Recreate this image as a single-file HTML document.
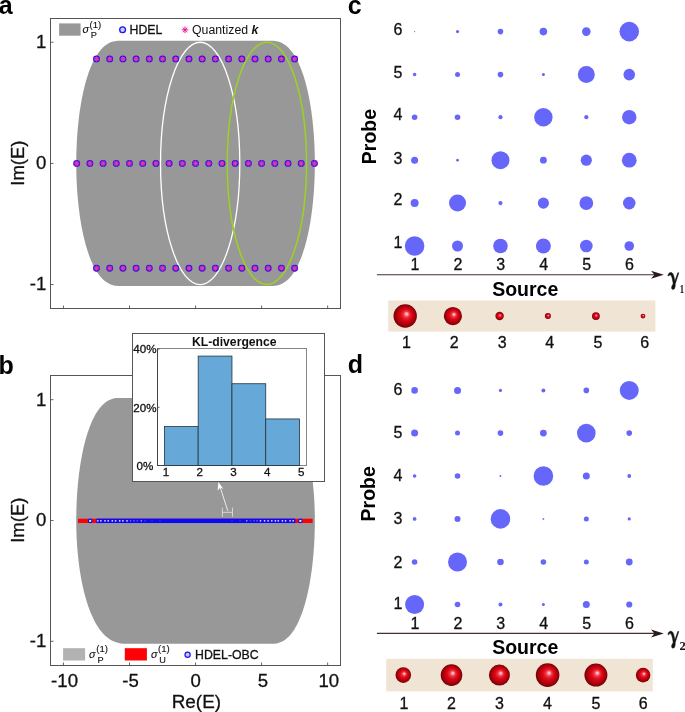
<!DOCTYPE html>
<html><head><meta charset="utf-8"><title>Figure</title>
<style>
html,body{margin:0;padding:0;background:#fff;}
body{width:685px;height:712px;overflow:hidden;font-family:"Liberation Sans",sans-serif;}
svg{display:block;will-change:transform;opacity:0.9999;}
</style></head>
<body>
<svg width="685" height="712" viewBox="0 0 685 712">
<defs>
<radialGradient id="sph" cx="0.5" cy="0.5" r="0.52" fx="0.57" fy="0.4">
<stop offset="0" stop-color="#ffe4e8"/>
<stop offset="0.1" stop-color="#ffa0ac"/>
<stop offset="0.24" stop-color="#f23546"/>
<stop offset="0.45" stop-color="#dc0a16"/>
<stop offset="0.7" stop-color="#b8000c"/>
<stop offset="0.88" stop-color="#8c0008"/>
<stop offset="1" stop-color="#600004"/>
</radialGradient>
</defs>
<rect x="0" y="0" width="685" height="712" fill="#ffffff"/>
<path d="M271.11,40.80 L273.16,40.84 L274.78,40.96 L276.27,41.17 L277.67,41.47 L279.02,41.85 L280.32,42.31 L281.57,42.85 L282.80,43.48 L283.99,44.18 L285.16,44.97 L286.30,45.85 L287.42,46.80 L288.51,47.83 L289.58,48.94 L290.62,50.13 L291.65,51.40 L292.65,52.74 L293.64,54.16 L294.60,55.65 L295.54,57.22 L296.46,58.86 L297.36,60.58 L298.24,62.36 L299.09,64.21 L299.93,66.13 L300.74,68.12 L301.54,70.17 L302.31,72.29 L303.06,74.47 L303.79,76.71 L304.50,79.01 L305.19,81.36 L305.85,83.78 L306.49,86.24 L307.11,88.76 L307.71,91.34 L308.28,93.96 L308.83,96.63 L309.36,99.34 L309.86,102.10 L310.34,104.90 L310.80,107.74 L311.23,110.62 L311.64,113.53 L312.02,116.48 L312.38,119.46 L312.72,122.47 L313.03,125.51 L313.32,128.58 L313.58,131.67 L313.82,134.78 L314.03,137.91 L314.22,141.06 L314.38,144.22 L314.52,147.40 L314.64,150.58 L314.72,153.78 L314.79,156.98 L314.82,160.19 L314.84,163.40 L314.82,166.61 L314.79,169.82 L314.72,173.02 L314.64,176.22 L314.52,179.40 L314.38,182.58 L314.22,185.74 L314.03,188.89 L313.82,192.02 L313.58,195.13 L313.32,198.22 L313.03,201.29 L312.72,204.33 L312.38,207.34 L312.02,210.32 L311.64,213.27 L311.23,216.18 L310.80,219.06 L310.34,221.90 L309.86,224.70 L309.36,227.46 L308.83,230.17 L308.28,232.84 L307.71,235.46 L307.11,238.04 L306.49,240.56 L305.85,243.02 L305.19,245.44 L304.50,247.79 L303.79,250.09 L303.06,252.33 L302.31,254.51 L301.54,256.63 L300.74,258.68 L299.93,260.67 L299.09,262.59 L298.24,264.44 L297.36,266.22 L296.46,267.94 L295.54,269.58 L294.60,271.15 L293.64,272.64 L292.65,274.06 L291.65,275.40 L290.62,276.67 L289.58,277.86 L288.51,278.97 L287.42,280.00 L286.30,280.95 L285.16,281.83 L283.99,282.62 L282.80,283.32 L281.57,283.95 L280.32,284.49 L279.02,284.95 L277.67,285.33 L276.27,285.63 L274.78,285.84 L273.16,285.96 L271.11,286.00 L119.99,286.00 L117.94,285.96 L116.32,285.84 L114.83,285.63 L113.43,285.33 L112.08,284.95 L110.78,284.49 L109.53,283.95 L108.30,283.32 L107.11,282.62 L105.94,281.83 L104.80,280.95 L103.68,280.00 L102.59,278.97 L101.52,277.86 L100.48,276.67 L99.45,275.40 L98.45,274.06 L97.46,272.64 L96.50,271.15 L95.56,269.58 L94.64,267.94 L93.74,266.22 L92.86,264.44 L92.01,262.59 L91.17,260.67 L90.36,258.68 L89.56,256.63 L88.79,254.51 L88.04,252.33 L87.31,250.09 L86.60,247.79 L85.91,245.44 L85.25,243.02 L84.61,240.56 L83.99,238.04 L83.39,235.46 L82.82,232.84 L82.27,230.17 L81.74,227.46 L81.24,224.70 L80.76,221.90 L80.30,219.06 L79.87,216.18 L79.46,213.27 L79.08,210.32 L78.72,207.34 L78.38,204.33 L78.07,201.29 L77.78,198.22 L77.52,195.13 L77.28,192.02 L77.07,188.89 L76.88,185.74 L76.72,182.58 L76.58,179.40 L76.46,176.22 L76.38,173.02 L76.31,169.82 L76.28,166.61 L76.26,163.40 L76.28,160.19 L76.31,156.98 L76.38,153.78 L76.46,150.58 L76.58,147.40 L76.72,144.22 L76.88,141.06 L77.07,137.91 L77.28,134.78 L77.52,131.67 L77.78,128.58 L78.07,125.51 L78.38,122.47 L78.72,119.46 L79.08,116.48 L79.46,113.53 L79.87,110.62 L80.30,107.74 L80.76,104.90 L81.24,102.10 L81.74,99.34 L82.27,96.63 L82.82,93.96 L83.39,91.34 L83.99,88.76 L84.61,86.24 L85.25,83.78 L85.91,81.36 L86.60,79.01 L87.31,76.71 L88.04,74.47 L88.79,72.29 L89.56,70.17 L90.36,68.12 L91.17,66.13 L92.01,64.21 L92.86,62.36 L93.74,60.58 L94.64,58.86 L95.56,57.22 L96.50,55.65 L97.46,54.16 L98.45,52.74 L99.45,51.40 L100.48,50.13 L101.52,48.94 L102.59,47.83 L103.68,46.80 L104.80,45.85 L105.94,44.97 L107.11,44.18 L108.30,43.48 L109.53,42.85 L110.78,42.31 L112.08,41.85 L113.43,41.47 L114.83,41.17 L116.32,40.96 L117.94,40.84 L119.99,40.80 Z" fill="#989898"/>
<ellipse cx="200.17" cy="163.4" rx="39.63" ry="121.15" fill="none" stroke="#ffffff" stroke-width="1.3"/>
<ellipse cx="266.88" cy="163.4" rx="39.63" ry="121.15" fill="none" stroke="#9bd321" stroke-width="1.5"/>
<g transform="translate(96.48,58.88)"><circle r="2.85" fill="#9a58e2" stroke="#1a12f5" stroke-width="1.2"/><path d="M-3.5,0H3.5M0,-3.5V3.5M-2.5,-2.5L2.5,2.5M-2.5,2.5L2.5,-2.5" stroke="#e8189a" stroke-width="0.7" fill="none"/><circle r="1.1" fill="#f23a96"/></g>
<g transform="translate(96.48,268.32)"><circle r="2.85" fill="#9a58e2" stroke="#1a12f5" stroke-width="1.2"/><path d="M-3.5,0H3.5M0,-3.5V3.5M-2.5,-2.5L2.5,2.5M-2.5,2.5L2.5,-2.5" stroke="#e8189a" stroke-width="0.7" fill="none"/><circle r="1.1" fill="#f23a96"/></g>
<g transform="translate(109.69,58.88)"><circle r="2.85" fill="#9a58e2" stroke="#1a12f5" stroke-width="1.2"/><path d="M-3.5,0H3.5M0,-3.5V3.5M-2.5,-2.5L2.5,2.5M-2.5,2.5L2.5,-2.5" stroke="#e8189a" stroke-width="0.7" fill="none"/><circle r="1.1" fill="#f23a96"/></g>
<g transform="translate(109.69,268.32)"><circle r="2.85" fill="#9a58e2" stroke="#1a12f5" stroke-width="1.2"/><path d="M-3.5,0H3.5M0,-3.5V3.5M-2.5,-2.5L2.5,2.5M-2.5,2.5L2.5,-2.5" stroke="#e8189a" stroke-width="0.7" fill="none"/><circle r="1.1" fill="#f23a96"/></g>
<g transform="translate(122.90,58.88)"><circle r="2.85" fill="#9a58e2" stroke="#1a12f5" stroke-width="1.2"/><path d="M-3.5,0H3.5M0,-3.5V3.5M-2.5,-2.5L2.5,2.5M-2.5,2.5L2.5,-2.5" stroke="#e8189a" stroke-width="0.7" fill="none"/><circle r="1.1" fill="#f23a96"/></g>
<g transform="translate(122.90,268.32)"><circle r="2.85" fill="#9a58e2" stroke="#1a12f5" stroke-width="1.2"/><path d="M-3.5,0H3.5M0,-3.5V3.5M-2.5,-2.5L2.5,2.5M-2.5,2.5L2.5,-2.5" stroke="#e8189a" stroke-width="0.7" fill="none"/><circle r="1.1" fill="#f23a96"/></g>
<g transform="translate(136.11,58.88)"><circle r="2.85" fill="#9a58e2" stroke="#1a12f5" stroke-width="1.2"/><path d="M-3.5,0H3.5M0,-3.5V3.5M-2.5,-2.5L2.5,2.5M-2.5,2.5L2.5,-2.5" stroke="#e8189a" stroke-width="0.7" fill="none"/><circle r="1.1" fill="#f23a96"/></g>
<g transform="translate(136.11,268.32)"><circle r="2.85" fill="#9a58e2" stroke="#1a12f5" stroke-width="1.2"/><path d="M-3.5,0H3.5M0,-3.5V3.5M-2.5,-2.5L2.5,2.5M-2.5,2.5L2.5,-2.5" stroke="#e8189a" stroke-width="0.7" fill="none"/><circle r="1.1" fill="#f23a96"/></g>
<g transform="translate(149.31,58.88)"><circle r="2.85" fill="#9a58e2" stroke="#1a12f5" stroke-width="1.2"/><path d="M-3.5,0H3.5M0,-3.5V3.5M-2.5,-2.5L2.5,2.5M-2.5,2.5L2.5,-2.5" stroke="#e8189a" stroke-width="0.7" fill="none"/><circle r="1.1" fill="#f23a96"/></g>
<g transform="translate(149.31,268.32)"><circle r="2.85" fill="#9a58e2" stroke="#1a12f5" stroke-width="1.2"/><path d="M-3.5,0H3.5M0,-3.5V3.5M-2.5,-2.5L2.5,2.5M-2.5,2.5L2.5,-2.5" stroke="#e8189a" stroke-width="0.7" fill="none"/><circle r="1.1" fill="#f23a96"/></g>
<g transform="translate(162.53,58.88)"><circle r="2.85" fill="#9a58e2" stroke="#1a12f5" stroke-width="1.2"/><path d="M-3.5,0H3.5M0,-3.5V3.5M-2.5,-2.5L2.5,2.5M-2.5,2.5L2.5,-2.5" stroke="#e8189a" stroke-width="0.7" fill="none"/><circle r="1.1" fill="#f23a96"/></g>
<g transform="translate(162.53,268.32)"><circle r="2.85" fill="#9a58e2" stroke="#1a12f5" stroke-width="1.2"/><path d="M-3.5,0H3.5M0,-3.5V3.5M-2.5,-2.5L2.5,2.5M-2.5,2.5L2.5,-2.5" stroke="#e8189a" stroke-width="0.7" fill="none"/><circle r="1.1" fill="#f23a96"/></g>
<g transform="translate(175.74,58.88)"><circle r="2.85" fill="#9a58e2" stroke="#1a12f5" stroke-width="1.2"/><path d="M-3.5,0H3.5M0,-3.5V3.5M-2.5,-2.5L2.5,2.5M-2.5,2.5L2.5,-2.5" stroke="#e8189a" stroke-width="0.7" fill="none"/><circle r="1.1" fill="#f23a96"/></g>
<g transform="translate(175.74,268.32)"><circle r="2.85" fill="#9a58e2" stroke="#1a12f5" stroke-width="1.2"/><path d="M-3.5,0H3.5M0,-3.5V3.5M-2.5,-2.5L2.5,2.5M-2.5,2.5L2.5,-2.5" stroke="#e8189a" stroke-width="0.7" fill="none"/><circle r="1.1" fill="#f23a96"/></g>
<g transform="translate(188.95,58.88)"><circle r="2.85" fill="#9a58e2" stroke="#1a12f5" stroke-width="1.2"/><path d="M-3.5,0H3.5M0,-3.5V3.5M-2.5,-2.5L2.5,2.5M-2.5,2.5L2.5,-2.5" stroke="#e8189a" stroke-width="0.7" fill="none"/><circle r="1.1" fill="#f23a96"/></g>
<g transform="translate(188.95,268.32)"><circle r="2.85" fill="#9a58e2" stroke="#1a12f5" stroke-width="1.2"/><path d="M-3.5,0H3.5M0,-3.5V3.5M-2.5,-2.5L2.5,2.5M-2.5,2.5L2.5,-2.5" stroke="#e8189a" stroke-width="0.7" fill="none"/><circle r="1.1" fill="#f23a96"/></g>
<g transform="translate(202.16,58.88)"><circle r="2.85" fill="#9a58e2" stroke="#1a12f5" stroke-width="1.2"/><path d="M-3.5,0H3.5M0,-3.5V3.5M-2.5,-2.5L2.5,2.5M-2.5,2.5L2.5,-2.5" stroke="#e8189a" stroke-width="0.7" fill="none"/><circle r="1.1" fill="#f23a96"/></g>
<g transform="translate(202.16,268.32)"><circle r="2.85" fill="#9a58e2" stroke="#1a12f5" stroke-width="1.2"/><path d="M-3.5,0H3.5M0,-3.5V3.5M-2.5,-2.5L2.5,2.5M-2.5,2.5L2.5,-2.5" stroke="#e8189a" stroke-width="0.7" fill="none"/><circle r="1.1" fill="#f23a96"/></g>
<g transform="translate(215.37,58.88)"><circle r="2.85" fill="#9a58e2" stroke="#1a12f5" stroke-width="1.2"/><path d="M-3.5,0H3.5M0,-3.5V3.5M-2.5,-2.5L2.5,2.5M-2.5,2.5L2.5,-2.5" stroke="#e8189a" stroke-width="0.7" fill="none"/><circle r="1.1" fill="#f23a96"/></g>
<g transform="translate(215.37,268.32)"><circle r="2.85" fill="#9a58e2" stroke="#1a12f5" stroke-width="1.2"/><path d="M-3.5,0H3.5M0,-3.5V3.5M-2.5,-2.5L2.5,2.5M-2.5,2.5L2.5,-2.5" stroke="#e8189a" stroke-width="0.7" fill="none"/><circle r="1.1" fill="#f23a96"/></g>
<g transform="translate(228.58,58.88)"><circle r="2.85" fill="#9a58e2" stroke="#1a12f5" stroke-width="1.2"/><path d="M-3.5,0H3.5M0,-3.5V3.5M-2.5,-2.5L2.5,2.5M-2.5,2.5L2.5,-2.5" stroke="#e8189a" stroke-width="0.7" fill="none"/><circle r="1.1" fill="#f23a96"/></g>
<g transform="translate(228.58,268.32)"><circle r="2.85" fill="#9a58e2" stroke="#1a12f5" stroke-width="1.2"/><path d="M-3.5,0H3.5M0,-3.5V3.5M-2.5,-2.5L2.5,2.5M-2.5,2.5L2.5,-2.5" stroke="#e8189a" stroke-width="0.7" fill="none"/><circle r="1.1" fill="#f23a96"/></g>
<g transform="translate(241.79,58.88)"><circle r="2.85" fill="#9a58e2" stroke="#1a12f5" stroke-width="1.2"/><path d="M-3.5,0H3.5M0,-3.5V3.5M-2.5,-2.5L2.5,2.5M-2.5,2.5L2.5,-2.5" stroke="#e8189a" stroke-width="0.7" fill="none"/><circle r="1.1" fill="#f23a96"/></g>
<g transform="translate(241.79,268.32)"><circle r="2.85" fill="#9a58e2" stroke="#1a12f5" stroke-width="1.2"/><path d="M-3.5,0H3.5M0,-3.5V3.5M-2.5,-2.5L2.5,2.5M-2.5,2.5L2.5,-2.5" stroke="#e8189a" stroke-width="0.7" fill="none"/><circle r="1.1" fill="#f23a96"/></g>
<g transform="translate(255.00,58.88)"><circle r="2.85" fill="#9a58e2" stroke="#1a12f5" stroke-width="1.2"/><path d="M-3.5,0H3.5M0,-3.5V3.5M-2.5,-2.5L2.5,2.5M-2.5,2.5L2.5,-2.5" stroke="#e8189a" stroke-width="0.7" fill="none"/><circle r="1.1" fill="#f23a96"/></g>
<g transform="translate(255.00,268.32)"><circle r="2.85" fill="#9a58e2" stroke="#1a12f5" stroke-width="1.2"/><path d="M-3.5,0H3.5M0,-3.5V3.5M-2.5,-2.5L2.5,2.5M-2.5,2.5L2.5,-2.5" stroke="#e8189a" stroke-width="0.7" fill="none"/><circle r="1.1" fill="#f23a96"/></g>
<g transform="translate(268.21,58.88)"><circle r="2.85" fill="#9a58e2" stroke="#1a12f5" stroke-width="1.2"/><path d="M-3.5,0H3.5M0,-3.5V3.5M-2.5,-2.5L2.5,2.5M-2.5,2.5L2.5,-2.5" stroke="#e8189a" stroke-width="0.7" fill="none"/><circle r="1.1" fill="#f23a96"/></g>
<g transform="translate(268.21,268.32)"><circle r="2.85" fill="#9a58e2" stroke="#1a12f5" stroke-width="1.2"/><path d="M-3.5,0H3.5M0,-3.5V3.5M-2.5,-2.5L2.5,2.5M-2.5,2.5L2.5,-2.5" stroke="#e8189a" stroke-width="0.7" fill="none"/><circle r="1.1" fill="#f23a96"/></g>
<g transform="translate(281.42,58.88)"><circle r="2.85" fill="#9a58e2" stroke="#1a12f5" stroke-width="1.2"/><path d="M-3.5,0H3.5M0,-3.5V3.5M-2.5,-2.5L2.5,2.5M-2.5,2.5L2.5,-2.5" stroke="#e8189a" stroke-width="0.7" fill="none"/><circle r="1.1" fill="#f23a96"/></g>
<g transform="translate(281.42,268.32)"><circle r="2.85" fill="#9a58e2" stroke="#1a12f5" stroke-width="1.2"/><path d="M-3.5,0H3.5M0,-3.5V3.5M-2.5,-2.5L2.5,2.5M-2.5,2.5L2.5,-2.5" stroke="#e8189a" stroke-width="0.7" fill="none"/><circle r="1.1" fill="#f23a96"/></g>
<g transform="translate(294.62,58.88)"><circle r="2.85" fill="#9a58e2" stroke="#1a12f5" stroke-width="1.2"/><path d="M-3.5,0H3.5M0,-3.5V3.5M-2.5,-2.5L2.5,2.5M-2.5,2.5L2.5,-2.5" stroke="#e8189a" stroke-width="0.7" fill="none"/><circle r="1.1" fill="#f23a96"/></g>
<g transform="translate(294.62,268.32)"><circle r="2.85" fill="#9a58e2" stroke="#1a12f5" stroke-width="1.2"/><path d="M-3.5,0H3.5M0,-3.5V3.5M-2.5,-2.5L2.5,2.5M-2.5,2.5L2.5,-2.5" stroke="#e8189a" stroke-width="0.7" fill="none"/><circle r="1.1" fill="#f23a96"/></g>
<g transform="translate(76.66,163.40)"><circle r="2.85" fill="#9a58e2" stroke="#1a12f5" stroke-width="1.2"/><path d="M-3.5,0H3.5M0,-3.5V3.5M-2.5,-2.5L2.5,2.5M-2.5,2.5L2.5,-2.5" stroke="#e8189a" stroke-width="0.7" fill="none"/><circle r="1.1" fill="#f23a96"/></g>
<g transform="translate(89.87,163.40)"><circle r="2.85" fill="#9a58e2" stroke="#1a12f5" stroke-width="1.2"/><path d="M-3.5,0H3.5M0,-3.5V3.5M-2.5,-2.5L2.5,2.5M-2.5,2.5L2.5,-2.5" stroke="#e8189a" stroke-width="0.7" fill="none"/><circle r="1.1" fill="#f23a96"/></g>
<g transform="translate(103.08,163.40)"><circle r="2.85" fill="#9a58e2" stroke="#1a12f5" stroke-width="1.2"/><path d="M-3.5,0H3.5M0,-3.5V3.5M-2.5,-2.5L2.5,2.5M-2.5,2.5L2.5,-2.5" stroke="#e8189a" stroke-width="0.7" fill="none"/><circle r="1.1" fill="#f23a96"/></g>
<g transform="translate(116.29,163.40)"><circle r="2.85" fill="#9a58e2" stroke="#1a12f5" stroke-width="1.2"/><path d="M-3.5,0H3.5M0,-3.5V3.5M-2.5,-2.5L2.5,2.5M-2.5,2.5L2.5,-2.5" stroke="#e8189a" stroke-width="0.7" fill="none"/><circle r="1.1" fill="#f23a96"/></g>
<g transform="translate(129.50,163.40)"><circle r="2.85" fill="#9a58e2" stroke="#1a12f5" stroke-width="1.2"/><path d="M-3.5,0H3.5M0,-3.5V3.5M-2.5,-2.5L2.5,2.5M-2.5,2.5L2.5,-2.5" stroke="#e8189a" stroke-width="0.7" fill="none"/><circle r="1.1" fill="#f23a96"/></g>
<g transform="translate(142.71,163.40)"><circle r="2.85" fill="#9a58e2" stroke="#1a12f5" stroke-width="1.2"/><path d="M-3.5,0H3.5M0,-3.5V3.5M-2.5,-2.5L2.5,2.5M-2.5,2.5L2.5,-2.5" stroke="#e8189a" stroke-width="0.7" fill="none"/><circle r="1.1" fill="#f23a96"/></g>
<g transform="translate(155.92,163.40)"><circle r="2.85" fill="#9a58e2" stroke="#1a12f5" stroke-width="1.2"/><path d="M-3.5,0H3.5M0,-3.5V3.5M-2.5,-2.5L2.5,2.5M-2.5,2.5L2.5,-2.5" stroke="#e8189a" stroke-width="0.7" fill="none"/><circle r="1.1" fill="#f23a96"/></g>
<g transform="translate(169.13,163.40)"><circle r="2.85" fill="#9a58e2" stroke="#1a12f5" stroke-width="1.2"/><path d="M-3.5,0H3.5M0,-3.5V3.5M-2.5,-2.5L2.5,2.5M-2.5,2.5L2.5,-2.5" stroke="#e8189a" stroke-width="0.7" fill="none"/><circle r="1.1" fill="#f23a96"/></g>
<g transform="translate(182.34,163.40)"><circle r="2.85" fill="#9a58e2" stroke="#1a12f5" stroke-width="1.2"/><path d="M-3.5,0H3.5M0,-3.5V3.5M-2.5,-2.5L2.5,2.5M-2.5,2.5L2.5,-2.5" stroke="#e8189a" stroke-width="0.7" fill="none"/><circle r="1.1" fill="#f23a96"/></g>
<g transform="translate(195.55,163.40)"><circle r="2.85" fill="#9a58e2" stroke="#1a12f5" stroke-width="1.2"/><path d="M-3.5,0H3.5M0,-3.5V3.5M-2.5,-2.5L2.5,2.5M-2.5,2.5L2.5,-2.5" stroke="#e8189a" stroke-width="0.7" fill="none"/><circle r="1.1" fill="#f23a96"/></g>
<g transform="translate(208.76,163.40)"><circle r="2.85" fill="#9a58e2" stroke="#1a12f5" stroke-width="1.2"/><path d="M-3.5,0H3.5M0,-3.5V3.5M-2.5,-2.5L2.5,2.5M-2.5,2.5L2.5,-2.5" stroke="#e8189a" stroke-width="0.7" fill="none"/><circle r="1.1" fill="#f23a96"/></g>
<g transform="translate(221.97,163.40)"><circle r="2.85" fill="#9a58e2" stroke="#1a12f5" stroke-width="1.2"/><path d="M-3.5,0H3.5M0,-3.5V3.5M-2.5,-2.5L2.5,2.5M-2.5,2.5L2.5,-2.5" stroke="#e8189a" stroke-width="0.7" fill="none"/><circle r="1.1" fill="#f23a96"/></g>
<g transform="translate(235.18,163.40)"><circle r="2.85" fill="#9a58e2" stroke="#1a12f5" stroke-width="1.2"/><path d="M-3.5,0H3.5M0,-3.5V3.5M-2.5,-2.5L2.5,2.5M-2.5,2.5L2.5,-2.5" stroke="#e8189a" stroke-width="0.7" fill="none"/><circle r="1.1" fill="#f23a96"/></g>
<g transform="translate(248.39,163.40)"><circle r="2.85" fill="#9a58e2" stroke="#1a12f5" stroke-width="1.2"/><path d="M-3.5,0H3.5M0,-3.5V3.5M-2.5,-2.5L2.5,2.5M-2.5,2.5L2.5,-2.5" stroke="#e8189a" stroke-width="0.7" fill="none"/><circle r="1.1" fill="#f23a96"/></g>
<g transform="translate(261.60,163.40)"><circle r="2.85" fill="#9a58e2" stroke="#1a12f5" stroke-width="1.2"/><path d="M-3.5,0H3.5M0,-3.5V3.5M-2.5,-2.5L2.5,2.5M-2.5,2.5L2.5,-2.5" stroke="#e8189a" stroke-width="0.7" fill="none"/><circle r="1.1" fill="#f23a96"/></g>
<g transform="translate(274.81,163.40)"><circle r="2.85" fill="#9a58e2" stroke="#1a12f5" stroke-width="1.2"/><path d="M-3.5,0H3.5M0,-3.5V3.5M-2.5,-2.5L2.5,2.5M-2.5,2.5L2.5,-2.5" stroke="#e8189a" stroke-width="0.7" fill="none"/><circle r="1.1" fill="#f23a96"/></g>
<g transform="translate(288.02,163.40)"><circle r="2.85" fill="#9a58e2" stroke="#1a12f5" stroke-width="1.2"/><path d="M-3.5,0H3.5M0,-3.5V3.5M-2.5,-2.5L2.5,2.5M-2.5,2.5L2.5,-2.5" stroke="#e8189a" stroke-width="0.7" fill="none"/><circle r="1.1" fill="#f23a96"/></g>
<g transform="translate(301.23,163.40)"><circle r="2.85" fill="#9a58e2" stroke="#1a12f5" stroke-width="1.2"/><path d="M-3.5,0H3.5M0,-3.5V3.5M-2.5,-2.5L2.5,2.5M-2.5,2.5L2.5,-2.5" stroke="#e8189a" stroke-width="0.7" fill="none"/><circle r="1.1" fill="#f23a96"/></g>
<g transform="translate(314.44,163.40)"><circle r="2.85" fill="#9a58e2" stroke="#1a12f5" stroke-width="1.2"/><path d="M-3.5,0H3.5M0,-3.5V3.5M-2.5,-2.5L2.5,2.5M-2.5,2.5L2.5,-2.5" stroke="#e8189a" stroke-width="0.7" fill="none"/><circle r="1.1" fill="#f23a96"/></g>
<rect x="50.5" y="18.5" width="290.0" height="290.0" fill="none" stroke="#555555" stroke-width="1"/>
<line x1="63.45" y1="308.5" x2="63.45" y2="305.5" stroke="#555555" stroke-width="0.9"/>
<line x1="129.50" y1="308.5" x2="129.50" y2="305.5" stroke="#555555" stroke-width="0.9"/>
<line x1="195.55" y1="308.5" x2="195.55" y2="305.5" stroke="#555555" stroke-width="0.9"/>
<line x1="261.60" y1="308.5" x2="261.60" y2="305.5" stroke="#555555" stroke-width="0.9"/>
<line x1="327.65" y1="308.5" x2="327.65" y2="305.5" stroke="#555555" stroke-width="0.9"/>
<line x1="50.5" y1="42.25" x2="53.5" y2="42.25" stroke="#555555" stroke-width="0.9"/>
<text x="46.4" y="48.15" font-size="18.6" text-anchor="end" font-weight="normal" font-style="normal" font-family='"Liberation Sans", sans-serif' fill="#111" stroke="#111" stroke-width="0.3">1</text>
<line x1="50.5" y1="163.40" x2="53.5" y2="163.40" stroke="#555555" stroke-width="0.9"/>
<text x="46.4" y="169.3" font-size="18.6" text-anchor="end" font-weight="normal" font-style="normal" font-family='"Liberation Sans", sans-serif' fill="#111" stroke="#111" stroke-width="0.3">0</text>
<line x1="50.5" y1="284.55" x2="53.5" y2="284.55" stroke="#555555" stroke-width="0.9"/>
<text x="46.4" y="290.45" font-size="18.6" text-anchor="end" font-weight="normal" font-style="normal" font-family='"Liberation Sans", sans-serif' fill="#111" stroke="#111" stroke-width="0.3">-1</text>
<rect x="59.1" y="23.4" width="21.5" height="12.3" fill="#989898"/>
<text x="82.39999999999999" y="32.8" font-size="10.8" text-anchor="start" font-weight="normal" font-style="italic" font-family='"Liberation Sans", sans-serif' fill="#111" stroke="#111" stroke-width="0.12">σ</text>
<text x="89.6" y="27.599999999999998" font-size="9.6" text-anchor="start" font-weight="normal" font-style="normal" font-family='"Liberation Sans", sans-serif' fill="#111" stroke="#111" stroke-width="0.12">(1)</text>
<text x="90.8" y="37.8" font-size="9.2" text-anchor="start" font-weight="normal" font-style="normal" font-family='"Liberation Sans", sans-serif' fill="#111" stroke="#111" stroke-width="0.12">P</text>
<circle cx="122.6" cy="29.7" r="2.9" fill="#c9c9fa" stroke="#1a12f5" stroke-width="1.3"/>
<text x="129.6" y="34.0" font-size="12.3" text-anchor="start" font-weight="normal" font-style="normal" font-family='"Liberation Sans", sans-serif' fill="#111" stroke="#111" stroke-width="0.3">HDEL</text>
<line x1="181.70" y1="29.80" x2="188.30" y2="29.80" stroke="#ea1496" stroke-width="1.0"/>
<line x1="182.67" y1="27.47" x2="187.33" y2="32.13" stroke="#ea1496" stroke-width="1.0"/>
<line x1="185.00" y1="26.50" x2="185.00" y2="33.10" stroke="#ea1496" stroke-width="1.0"/>
<line x1="187.33" y1="27.47" x2="182.67" y2="32.13" stroke="#ea1496" stroke-width="1.0"/>
<text x="192" y="34.0" font-size="12.3" font-family='"Liberation Sans", sans-serif' fill="#111">Quantized <tspan font-weight="bold" font-style="italic">k</tspan></text>
<text x="23.9" y="163.1" font-size="18.5" text-anchor="middle" font-weight="normal" font-style="normal" font-family='"Liberation Sans", sans-serif' fill="#111" transform="rotate(-90 23.9 163.1)" stroke="#111" stroke-width="0.3">Im(E)</text>
<text x="-1.3" y="13.5" font-size="25" text-anchor="start" font-weight="bold" font-style="normal" font-family='"Liberation Sans", sans-serif' fill="#000">a</text>
<path d="M263.19,397.89 L265.99,397.93 L268.06,398.06 L269.93,398.27 L271.67,398.56 L273.32,398.94 L274.89,399.40 L276.42,399.94 L277.89,400.57 L279.31,401.28 L280.70,402.07 L282.05,402.94 L283.37,403.89 L284.66,404.92 L285.91,406.03 L287.14,407.22 L288.33,408.49 L289.50,409.83 L290.65,411.25 L291.76,412.75 L292.85,414.31 L293.91,415.96 L294.95,417.67 L295.96,419.45 L296.95,421.30 L297.91,423.23 L298.84,425.21 L299.75,427.27 L300.64,429.38 L301.50,431.56 L302.33,433.80 L303.14,436.10 L303.92,438.46 L304.67,440.87 L305.40,443.34 L306.10,445.86 L306.78,448.43 L307.43,451.05 L308.05,453.72 L308.65,456.44 L309.22,459.19 L309.77,461.99 L310.28,464.84 L310.77,467.71 L311.23,470.63 L311.67,473.58 L312.07,476.56 L312.45,479.57 L312.80,482.61 L313.13,485.68 L313.42,488.77 L313.69,491.88 L313.93,495.01 L314.14,498.16 L314.33,501.32 L314.48,504.50 L314.61,507.68 L314.71,510.88 L314.78,514.08 L314.82,517.29 L314.84,520.50 L314.82,523.73 L314.79,526.95 L314.72,530.18 L314.64,533.39 L314.52,536.60 L314.38,539.79 L314.22,542.98 L314.03,546.14 L313.82,549.29 L313.58,552.42 L313.32,555.53 L313.03,558.61 L312.72,561.67 L312.38,564.70 L312.02,567.70 L311.64,570.67 L311.23,573.60 L310.80,576.49 L310.34,579.35 L309.86,582.17 L309.36,584.94 L308.83,587.67 L308.28,590.36 L307.71,593.00 L307.11,595.58 L306.49,598.12 L305.85,600.60 L305.19,603.03 L304.50,605.40 L303.79,607.71 L303.06,609.97 L302.31,612.16 L301.54,614.29 L300.74,616.35 L299.93,618.35 L299.09,620.28 L298.24,622.15 L297.36,623.94 L296.46,625.66 L295.54,627.31 L294.60,628.89 L293.64,630.39 L292.65,631.82 L291.65,633.17 L290.62,634.45 L289.58,635.64 L288.51,636.76 L287.42,637.80 L286.30,638.76 L285.16,639.63 L283.99,640.43 L282.80,641.14 L281.57,641.77 L280.32,642.32 L279.02,642.78 L277.67,643.16 L276.27,643.46 L274.78,643.67 L273.16,643.79 L271.11,643.84 L127.91,643.84 L125.11,643.79 L123.04,643.67 L121.17,643.46 L119.43,643.16 L117.78,642.78 L116.21,642.32 L114.68,641.77 L113.21,641.14 L111.79,640.43 L110.40,639.63 L109.05,638.76 L107.73,637.80 L106.44,636.76 L105.19,635.64 L103.96,634.45 L102.77,633.17 L101.60,631.82 L100.45,630.39 L99.34,628.89 L98.25,627.31 L97.19,625.66 L96.15,623.94 L95.14,622.15 L94.15,620.28 L93.19,618.35 L92.26,616.35 L91.35,614.29 L90.46,612.16 L89.60,609.97 L88.77,607.71 L87.96,605.40 L87.18,603.03 L86.43,600.60 L85.70,598.12 L85.00,595.58 L84.32,593.00 L83.67,590.36 L83.05,587.67 L82.45,584.94 L81.88,582.17 L81.33,579.35 L80.82,576.49 L80.33,573.60 L79.87,570.67 L79.43,567.70 L79.03,564.70 L78.65,561.67 L78.30,558.61 L77.97,555.53 L77.68,552.42 L77.41,549.29 L77.17,546.14 L76.96,542.98 L76.77,539.79 L76.62,536.60 L76.49,533.39 L76.39,530.18 L76.32,526.95 L76.28,523.73 L76.26,520.50 L76.28,517.29 L76.31,514.08 L76.38,510.88 L76.46,507.68 L76.58,504.50 L76.72,501.32 L76.88,498.16 L77.07,495.01 L77.28,491.88 L77.52,488.77 L77.78,485.68 L78.07,482.61 L78.38,479.57 L78.72,476.56 L79.08,473.58 L79.46,470.63 L79.87,467.71 L80.30,464.84 L80.76,461.99 L81.24,459.19 L81.74,456.44 L82.27,453.72 L82.82,451.05 L83.39,448.43 L83.99,445.86 L84.61,443.34 L85.25,440.87 L85.91,438.46 L86.60,436.10 L87.31,433.80 L88.04,431.56 L88.79,429.38 L89.56,427.27 L90.36,425.21 L91.17,423.23 L92.01,421.30 L92.86,419.45 L93.74,417.67 L94.64,415.96 L95.56,414.31 L96.50,412.75 L97.46,411.25 L98.45,409.83 L99.45,408.49 L100.48,407.22 L101.52,406.03 L102.59,404.92 L103.68,403.89 L104.80,402.94 L105.94,402.07 L107.11,401.28 L108.30,400.57 L109.53,399.94 L110.78,399.40 L112.08,398.94 L113.43,398.56 L114.83,398.27 L116.32,398.06 L117.94,397.93 L119.99,397.89 Z" fill="#989898"/>
<rect x="78" y="518.70" width="234.60000000000002" height="4.3" fill="#fb0207"/>
<rect x="96.4" y="518.65" width="198.9" height="4.4" fill="#0a0af8"/>
<circle cx="90.20" cy="520.85" r="1.75" fill="#e8e8ff" stroke="#0a0af8" stroke-width="1.1"/>
<circle cx="300.40" cy="520.85" r="1.75" fill="#e8e8ff" stroke="#0a0af8" stroke-width="1.1"/>
<circle cx="97.80" cy="520.85" r="0.9" fill="#dcdcff" fill-opacity="1.0"/>
<circle cx="100.90" cy="520.85" r="0.9" fill="#dcdcff" fill-opacity="1.0"/>
<circle cx="105.00" cy="520.85" r="0.9" fill="#dcdcff" fill-opacity="1.0"/>
<circle cx="108.20" cy="520.85" r="0.9" fill="#dcdcff" fill-opacity="1.0"/>
<circle cx="112.30" cy="520.85" r="0.9" fill="#dcdcff" fill-opacity="1.0"/>
<circle cx="115.60" cy="520.85" r="0.9" fill="#dcdcff" fill-opacity="1.0"/>
<circle cx="119.70" cy="520.85" r="0.9" fill="#dcdcff" fill-opacity="1.0"/>
<circle cx="122.90" cy="520.85" r="0.9" fill="#dcdcff" fill-opacity="1.0"/>
<circle cx="127.00" cy="520.85" r="0.9" fill="#dcdcff" fill-opacity="1.0"/>
<circle cx="130.50" cy="520.85" r="0.8" fill="#dcdcff" fill-opacity="0.5"/>
<circle cx="134.00" cy="520.85" r="0.8" fill="#dcdcff" fill-opacity="0.45"/>
<circle cx="137.30" cy="520.85" r="0.8" fill="#dcdcff" fill-opacity="0.4"/>
<circle cx="141.30" cy="520.85" r="0.8" fill="#dcdcff" fill-opacity="0.75"/>
<circle cx="145.00" cy="520.85" r="0.8" fill="#dcdcff" fill-opacity="0.25"/>
<circle cx="152.00" cy="520.85" r="0.8" fill="#dcdcff" fill-opacity="0.2"/>
<circle cx="160.00" cy="520.85" r="0.8" fill="#dcdcff" fill-opacity="0.15"/>
<circle cx="260.50" cy="520.85" r="0.9" fill="#dcdcff" fill-opacity="1.0"/>
<circle cx="264.60" cy="520.85" r="0.9" fill="#dcdcff" fill-opacity="1.0"/>
<circle cx="268.10" cy="520.85" r="0.9" fill="#dcdcff" fill-opacity="1.0"/>
<circle cx="271.80" cy="520.85" r="0.9" fill="#dcdcff" fill-opacity="1.0"/>
<circle cx="275.40" cy="520.85" r="0.9" fill="#dcdcff" fill-opacity="1.0"/>
<circle cx="278.30" cy="520.85" r="0.9" fill="#dcdcff" fill-opacity="1.0"/>
<circle cx="282.40" cy="520.85" r="0.9" fill="#dcdcff" fill-opacity="1.0"/>
<circle cx="285.60" cy="520.85" r="0.9" fill="#dcdcff" fill-opacity="1.0"/>
<circle cx="290.10" cy="520.85" r="0.9" fill="#dcdcff" fill-opacity="1.0"/>
<circle cx="293.20" cy="520.85" r="0.9" fill="#dcdcff" fill-opacity="1.0"/>
<circle cx="246.80" cy="520.85" r="0.8" fill="#dcdcff" fill-opacity="0.8"/>
<circle cx="250.50" cy="520.85" r="0.8" fill="#dcdcff" fill-opacity="0.3"/>
<circle cx="254.00" cy="520.85" r="0.8" fill="#dcdcff" fill-opacity="0.4"/>
<circle cx="257.00" cy="520.85" r="0.8" fill="#dcdcff" fill-opacity="0.45"/>
<circle cx="240.00" cy="520.85" r="0.8" fill="#dcdcff" fill-opacity="0.2"/>
<circle cx="232.00" cy="520.85" r="0.8" fill="#dcdcff" fill-opacity="0.15"/>
<rect x="50.5" y="375.5" width="290.0" height="290.0" fill="none" stroke="#555555" stroke-width="1"/>
<line x1="63.45" y1="665.5" x2="63.45" y2="662.5" stroke="#555555" stroke-width="0.9"/>
<text x="64.55" y="687.2" font-size="18.6" text-anchor="middle" font-weight="normal" font-style="normal" font-family='"Liberation Sans", sans-serif' fill="#111" stroke="#111" stroke-width="0.3">-10</text>
<line x1="129.50" y1="665.5" x2="129.50" y2="662.5" stroke="#555555" stroke-width="0.9"/>
<text x="130.6" y="687.2" font-size="18.6" text-anchor="middle" font-weight="normal" font-style="normal" font-family='"Liberation Sans", sans-serif' fill="#111" stroke="#111" stroke-width="0.3">-5</text>
<line x1="195.55" y1="665.5" x2="195.55" y2="662.5" stroke="#555555" stroke-width="0.9"/>
<text x="195.55" y="687.2" font-size="18.6" text-anchor="middle" font-weight="normal" font-style="normal" font-family='"Liberation Sans", sans-serif' fill="#111" stroke="#111" stroke-width="0.3">0</text>
<line x1="261.60" y1="665.5" x2="261.60" y2="662.5" stroke="#555555" stroke-width="0.9"/>
<text x="262.9" y="687.2" font-size="18.6" text-anchor="middle" font-weight="normal" font-style="normal" font-family='"Liberation Sans", sans-serif' fill="#111" stroke="#111" stroke-width="0.3">5</text>
<line x1="327.65" y1="665.5" x2="327.65" y2="662.5" stroke="#555555" stroke-width="0.9"/>
<text x="328.85" y="687.2" font-size="18.6" text-anchor="middle" font-weight="normal" font-style="normal" font-family='"Liberation Sans", sans-serif' fill="#111" stroke="#111" stroke-width="0.3">10</text>
<line x1="50.5" y1="399.70" x2="53.5" y2="399.70" stroke="#555555" stroke-width="0.9"/>
<text x="46.4" y="405.6" font-size="18.6" text-anchor="end" font-weight="normal" font-style="normal" font-family='"Liberation Sans", sans-serif' fill="#111" stroke="#111" stroke-width="0.3">1</text>
<line x1="50.5" y1="520.50" x2="53.5" y2="520.50" stroke="#555555" stroke-width="0.9"/>
<text x="46.4" y="526.4" font-size="18.6" text-anchor="end" font-weight="normal" font-style="normal" font-family='"Liberation Sans", sans-serif' fill="#111" stroke="#111" stroke-width="0.3">0</text>
<line x1="50.5" y1="641.30" x2="53.5" y2="641.30" stroke="#555555" stroke-width="0.9"/>
<text x="46.4" y="647.2" font-size="18.6" text-anchor="end" font-weight="normal" font-style="normal" font-family='"Liberation Sans", sans-serif' fill="#111" stroke="#111" stroke-width="0.3">-1</text>
<path d="M222.4,507.6 V516.8 M232.5,507.6 V516.8 M222.4,512.3 H232.5" fill="none" stroke="#dcdcdc" stroke-width="0.9"/>
<line x1="227.8" y1="510.8" x2="219.6" y2="485.5" stroke="#f4f4f4" stroke-width="0.9"/>
<path d="M218.4,482.0 L223.4,489.0 L220.4,487.6 L217.6,490.6 Z" fill="#ffffff"/>
<rect x="132.5" y="333.5" width="192" height="148" fill="#ffffff" stroke="#555555" stroke-width="1"/>
<rect x="157.5" y="348.5" width="149.0" height="117.0" fill="none" stroke="#858585" stroke-width="1"/>
<path d="M157.5,348.5 V465.5 H299.52" fill="none" stroke="#444444" stroke-width="1"/>
<rect x="164.40" y="426.51" width="33.78" height="38.99" fill="#66a9d8" stroke="#23323f" stroke-width="0.8"/>
<rect x="198.18" y="356.08" width="33.78" height="109.42" fill="#66a9d8" stroke="#23323f" stroke-width="0.8"/>
<rect x="231.96" y="383.73" width="33.78" height="81.77" fill="#66a9d8" stroke="#23323f" stroke-width="0.8"/>
<rect x="265.74" y="418.94" width="33.78" height="46.56" fill="#66a9d8" stroke="#23323f" stroke-width="0.8"/>
<text x="166.0" y="476.2" font-size="11.6" text-anchor="middle" font-weight="normal" font-style="normal" font-family='"Liberation Sans", sans-serif' fill="#111" stroke="#111" stroke-width="0.3">1</text>
<text x="199.78" y="476.2" font-size="11.6" text-anchor="middle" font-weight="normal" font-style="normal" font-family='"Liberation Sans", sans-serif' fill="#111" stroke="#111" stroke-width="0.3">2</text>
<text x="233.56" y="476.2" font-size="11.6" text-anchor="middle" font-weight="normal" font-style="normal" font-family='"Liberation Sans", sans-serif' fill="#111" stroke="#111" stroke-width="0.3">3</text>
<text x="267.34" y="476.2" font-size="11.6" text-anchor="middle" font-weight="normal" font-style="normal" font-family='"Liberation Sans", sans-serif' fill="#111" stroke="#111" stroke-width="0.3">4</text>
<text x="301.12" y="476.2" font-size="11.6" text-anchor="middle" font-weight="normal" font-style="normal" font-family='"Liberation Sans", sans-serif' fill="#111" stroke="#111" stroke-width="0.3">5</text>
<line x1="157.5" y1="465.50" x2="159.5" y2="465.50" stroke="#3a3a3a" stroke-width="0.8"/>
<text x="144.9" y="470.0" font-size="11.6" text-anchor="middle" font-weight="normal" font-style="normal" font-family='"Liberation Sans", sans-serif' fill="#111" stroke="#111" stroke-width="0.3">0%</text>
<line x1="157.5" y1="407.30" x2="159.5" y2="407.30" stroke="#3a3a3a" stroke-width="0.8"/>
<text x="144.9" y="411.5" font-size="11.6" text-anchor="middle" font-weight="normal" font-style="normal" font-family='"Liberation Sans", sans-serif' fill="#111" stroke="#111" stroke-width="0.3">20%</text>
<line x1="157.5" y1="349.10" x2="159.5" y2="349.10" stroke="#3a3a3a" stroke-width="0.8"/>
<text x="144.9" y="353.0" font-size="11.6" text-anchor="middle" font-weight="normal" font-style="normal" font-family='"Liberation Sans", sans-serif' fill="#111" stroke="#111" stroke-width="0.3">40%</text>
<text x="234.3" y="346.4" font-size="12.2" text-anchor="middle" font-weight="bold" font-style="normal" font-family='"Liberation Sans", sans-serif' fill="#111">KL-divergence</text>
<rect x="63.1" y="648.2" width="22.0" height="12.3" fill="#b2b2b2"/>
<text x="89.1" y="657.5" font-size="10.8" text-anchor="start" font-weight="normal" font-style="italic" font-family='"Liberation Sans", sans-serif' fill="#111" stroke="#111" stroke-width="0.12">σ</text>
<text x="96.3" y="652.3" font-size="9.6" text-anchor="start" font-weight="normal" font-style="normal" font-family='"Liberation Sans", sans-serif' fill="#111" stroke="#111" stroke-width="0.12">(1)</text>
<text x="97.5" y="662.5" font-size="9.2" text-anchor="start" font-weight="normal" font-style="normal" font-family='"Liberation Sans", sans-serif' fill="#111" stroke="#111" stroke-width="0.12">P</text>
<rect x="124.8" y="648.2" width="22.1" height="12.3" fill="#fb0207"/>
<text x="150.9" y="657.5" font-size="10.8" text-anchor="start" font-weight="normal" font-style="italic" font-family='"Liberation Sans", sans-serif' fill="#111" stroke="#111" stroke-width="0.12">σ</text>
<text x="158.10000000000002" y="652.3" font-size="9.6" text-anchor="start" font-weight="normal" font-style="normal" font-family='"Liberation Sans", sans-serif' fill="#111" stroke="#111" stroke-width="0.12">(1)</text>
<text x="159.3" y="662.5" font-size="9.2" text-anchor="start" font-weight="normal" font-style="normal" font-family='"Liberation Sans", sans-serif' fill="#111" stroke="#111" stroke-width="0.12">U</text>
<circle cx="187.6" cy="654.8" r="2.6" fill="#c9c9fa" stroke="#1a12f5" stroke-width="1.2"/>
<text x="195.1" y="659.1" font-size="12.3" text-anchor="start" font-weight="normal" font-style="normal" font-family='"Liberation Sans", sans-serif' fill="#111" stroke="#111" stroke-width="0.3">HDEL-OBC</text>
<text x="23.9" y="520.2" font-size="18.5" text-anchor="middle" font-weight="normal" font-style="normal" font-family='"Liberation Sans", sans-serif' fill="#111" transform="rotate(-90 23.9 520.2)" stroke="#111" stroke-width="0.3">Im(E)</text>
<text x="196.4" y="707.6" font-size="18.9" text-anchor="middle" font-weight="normal" font-style="normal" font-family='"Liberation Sans", sans-serif' fill="#111" stroke="#111" stroke-width="0.3">Re(E)</text>
<text x="-1.6" y="373.7" font-size="25" text-anchor="start" font-weight="bold" font-style="normal" font-family='"Liberation Sans", sans-serif' fill="#000">b</text>
<circle cx="414.60" cy="31.60" r="0.6" fill="#6666fb"/>
<circle cx="457.53" cy="31.60" r="1.6" fill="#6666fb"/>
<circle cx="500.46" cy="31.60" r="2.8" fill="#6666fb"/>
<circle cx="543.39" cy="31.60" r="3.8" fill="#6666fb"/>
<circle cx="586.32" cy="31.60" r="4.3" fill="#6666fb"/>
<circle cx="629.25" cy="31.60" r="9.8" fill="#6666fb"/>
<text x="402.3" y="35.0" font-size="16" text-anchor="end" font-weight="normal" font-style="normal" font-family='"Liberation Sans", sans-serif' fill="#111" stroke="#111" stroke-width="0.3">6</text>
<circle cx="414.60" cy="74.60" r="1.75" fill="#6666fb"/>
<circle cx="457.53" cy="74.60" r="2.5" fill="#6666fb"/>
<circle cx="500.46" cy="74.60" r="2.8" fill="#6666fb"/>
<circle cx="543.39" cy="74.60" r="1.5" fill="#6666fb"/>
<circle cx="586.32" cy="74.60" r="8.5" fill="#6666fb"/>
<circle cx="629.25" cy="74.60" r="5.8" fill="#6666fb"/>
<text x="402.3" y="78.0" font-size="16" text-anchor="end" font-weight="normal" font-style="normal" font-family='"Liberation Sans", sans-serif' fill="#111" stroke="#111" stroke-width="0.3">5</text>
<circle cx="414.60" cy="117.20" r="2.8" fill="#6666fb"/>
<circle cx="457.53" cy="117.20" r="2.8" fill="#6666fb"/>
<circle cx="500.46" cy="117.20" r="2.1" fill="#6666fb"/>
<circle cx="543.39" cy="117.20" r="9.2" fill="#6666fb"/>
<circle cx="586.32" cy="117.20" r="2.1" fill="#6666fb"/>
<circle cx="629.25" cy="117.20" r="7.2" fill="#6666fb"/>
<text x="402.3" y="119.5" font-size="16" text-anchor="end" font-weight="normal" font-style="normal" font-family='"Liberation Sans", sans-serif' fill="#111" stroke="#111" stroke-width="0.3">4</text>
<circle cx="414.60" cy="160.20" r="3.5" fill="#6666fb"/>
<circle cx="457.53" cy="160.20" r="1.4" fill="#6666fb"/>
<circle cx="500.46" cy="160.20" r="9.0" fill="#6666fb"/>
<circle cx="543.39" cy="160.20" r="3.4" fill="#6666fb"/>
<circle cx="586.32" cy="160.20" r="5.6" fill="#6666fb"/>
<circle cx="629.25" cy="160.20" r="7.4" fill="#6666fb"/>
<text x="402.3" y="163.6" font-size="16" text-anchor="end" font-weight="normal" font-style="normal" font-family='"Liberation Sans", sans-serif' fill="#111" stroke="#111" stroke-width="0.3">3</text>
<circle cx="414.60" cy="203.10" r="4.0" fill="#6666fb"/>
<circle cx="457.53" cy="203.10" r="8.5" fill="#6666fb"/>
<circle cx="500.46" cy="203.10" r="2.1" fill="#6666fb"/>
<circle cx="543.39" cy="203.10" r="5.6" fill="#6666fb"/>
<circle cx="586.32" cy="203.10" r="6.9" fill="#6666fb"/>
<circle cx="629.25" cy="203.10" r="6.3" fill="#6666fb"/>
<text x="402.3" y="205.3" font-size="16" text-anchor="end" font-weight="normal" font-style="normal" font-family='"Liberation Sans", sans-serif' fill="#111" stroke="#111" stroke-width="0.3">2</text>
<circle cx="414.60" cy="246.00" r="9.8" fill="#6666fb"/>
<circle cx="457.53" cy="246.00" r="5.5" fill="#6666fb"/>
<circle cx="500.46" cy="246.00" r="7.3" fill="#6666fb"/>
<circle cx="543.39" cy="246.00" r="7.5" fill="#6666fb"/>
<circle cx="586.32" cy="246.00" r="6.3" fill="#6666fb"/>
<circle cx="629.25" cy="246.00" r="4.8" fill="#6666fb"/>
<text x="402.3" y="248.2" font-size="16" text-anchor="end" font-weight="normal" font-style="normal" font-family='"Liberation Sans", sans-serif' fill="#111" stroke="#111" stroke-width="0.3">1</text>
<text x="414.9" y="269.9" font-size="16" text-anchor="middle" font-weight="normal" font-style="normal" font-family='"Liberation Sans", sans-serif' fill="#111" stroke="#111" stroke-width="0.3">1</text>
<text x="457.83" y="269.9" font-size="16" text-anchor="middle" font-weight="normal" font-style="normal" font-family='"Liberation Sans", sans-serif' fill="#111" stroke="#111" stroke-width="0.3">2</text>
<text x="500.76" y="269.9" font-size="16" text-anchor="middle" font-weight="normal" font-style="normal" font-family='"Liberation Sans", sans-serif' fill="#111" stroke="#111" stroke-width="0.3">3</text>
<text x="543.69" y="269.9" font-size="16" text-anchor="middle" font-weight="normal" font-style="normal" font-family='"Liberation Sans", sans-serif' fill="#111" stroke="#111" stroke-width="0.3">4</text>
<text x="586.62" y="269.9" font-size="16" text-anchor="middle" font-weight="normal" font-style="normal" font-family='"Liberation Sans", sans-serif' fill="#111" stroke="#111" stroke-width="0.3">5</text>
<text x="629.55" y="269.9" font-size="16" text-anchor="middle" font-weight="normal" font-style="normal" font-family='"Liberation Sans", sans-serif' fill="#111" stroke="#111" stroke-width="0.3">6</text>
<line x1="376.9" y1="274.7" x2="655" y2="274.7" stroke="#43312f" stroke-width="1.1"/>
<path d="M663.8,274.7 L651.0,270.7 L654.4,274.7 L651.0,278.7 Z" fill="#2a1c1a"/>
<text x="525.2" y="295.5" font-size="19.5" text-anchor="middle" font-weight="bold" font-style="normal" font-family='"Liberation Sans", sans-serif' fill="#000">Source</text>
<path transform="translate(667.90,272.50)" d="M0,3.3 C0.3,1.2 1.5,0 2.9,0 C4.7,0 5.5,1.8 6.1,4.6 L7.0,8.8 L9.9,0.3 L10.9,0.3 L7.3,11.4 C7.4,12.8 7.3,14.2 6.9,15.3 C6.6,16.4 5.9,16.9 5.2,16.9 C4.3,16.9 3.7,16.3 3.7,15.2 C3.7,13.8 4.6,12.6 5.3,11.2 C4.9,8.4 4.4,5.6 3.7,3.9 C3.3,2.9 2.8,2.4 2.1,2.4 C1.4,2.4 0.9,2.8 0.6,3.5 Z" fill="#111" stroke="#111" stroke-width="0.55" stroke-linejoin="round"/>
<text transform="translate(679.7,292.60) scale(0.7,1)" x="0" y="0" font-size="12.5" font-weight="bold" font-family='"Liberation Serif", serif' fill="#111">1</text>
<rect x="388.2" y="300.5" width="267.2" height="31.1" fill="#f0e4d5"/>
<circle cx="405.2" cy="316.05" r="11.7" fill="url(#sph)"/>
<circle cx="452.9" cy="316.05" r="9.1" fill="url(#sph)"/>
<circle cx="499.6" cy="316.05" r="4.2" fill="url(#sph)"/>
<circle cx="547.9" cy="316.05" r="3.0" fill="url(#sph)"/>
<circle cx="595.9" cy="316.05" r="3.9" fill="url(#sph)"/>
<circle cx="643.0" cy="316.05" r="2.4" fill="url(#sph)"/>
<text x="406.5" y="347.9" font-size="16" text-anchor="middle" font-weight="normal" font-style="normal" font-family='"Liberation Sans", sans-serif' fill="#111" stroke="#111" stroke-width="0.3">1</text>
<text x="454.3" y="347.9" font-size="16" text-anchor="middle" font-weight="normal" font-style="normal" font-family='"Liberation Sans", sans-serif' fill="#111" stroke="#111" stroke-width="0.3">2</text>
<text x="502.2" y="347.9" font-size="16" text-anchor="middle" font-weight="normal" font-style="normal" font-family='"Liberation Sans", sans-serif' fill="#111" stroke="#111" stroke-width="0.3">3</text>
<text x="549.7" y="347.9" font-size="16" text-anchor="middle" font-weight="normal" font-style="normal" font-family='"Liberation Sans", sans-serif' fill="#111" stroke="#111" stroke-width="0.3">4</text>
<text x="597.9" y="347.9" font-size="16" text-anchor="middle" font-weight="normal" font-style="normal" font-family='"Liberation Sans", sans-serif' fill="#111" stroke="#111" stroke-width="0.3">5</text>
<text x="644.8" y="347.9" font-size="16" text-anchor="middle" font-weight="normal" font-style="normal" font-family='"Liberation Sans", sans-serif' fill="#111" stroke="#111" stroke-width="0.3">6</text>
<text x="376.4" y="136.5" font-size="19.5" text-anchor="middle" font-weight="bold" font-style="normal" font-family='"Liberation Sans", sans-serif' fill="#000" transform="rotate(-90 376.4 136.5)">Probe</text>
<text x="347.7" y="13.5" font-size="25" text-anchor="start" font-weight="bold" font-style="normal" font-family='"Liberation Sans", sans-serif' fill="#000">c</text>
<circle cx="414.60" cy="390.40" r="3.3" fill="#6666fb"/>
<circle cx="457.53" cy="390.40" r="3.5" fill="#6666fb"/>
<circle cx="500.46" cy="390.40" r="1.6" fill="#6666fb"/>
<circle cx="543.39" cy="390.40" r="2.0" fill="#6666fb"/>
<circle cx="586.32" cy="390.40" r="2.8" fill="#6666fb"/>
<circle cx="629.25" cy="390.40" r="9.5" fill="#6666fb"/>
<text x="402.3" y="395.3" font-size="16" text-anchor="end" font-weight="normal" font-style="normal" font-family='"Liberation Sans", sans-serif' fill="#111" stroke="#111" stroke-width="0.3">6</text>
<circle cx="414.60" cy="433.10" r="3.5" fill="#6666fb"/>
<circle cx="457.53" cy="433.10" r="2.5" fill="#6666fb"/>
<circle cx="500.46" cy="433.10" r="2.8" fill="#6666fb"/>
<circle cx="543.39" cy="433.10" r="3.4" fill="#6666fb"/>
<circle cx="586.32" cy="433.10" r="9.3" fill="#6666fb"/>
<circle cx="629.25" cy="433.10" r="2.8" fill="#6666fb"/>
<text x="402.3" y="437.8" font-size="16" text-anchor="end" font-weight="normal" font-style="normal" font-family='"Liberation Sans", sans-serif' fill="#111" stroke="#111" stroke-width="0.3">5</text>
<circle cx="414.60" cy="476.00" r="1.8" fill="#6666fb"/>
<circle cx="457.53" cy="476.00" r="2.8" fill="#6666fb"/>
<circle cx="500.46" cy="476.00" r="1.0" fill="#6666fb"/>
<circle cx="543.39" cy="476.00" r="9.8" fill="#6666fb"/>
<circle cx="586.32" cy="476.00" r="3.5" fill="#6666fb"/>
<circle cx="629.25" cy="476.00" r="1.9" fill="#6666fb"/>
<text x="402.3" y="480.7" font-size="16" text-anchor="end" font-weight="normal" font-style="normal" font-family='"Liberation Sans", sans-serif' fill="#111" stroke="#111" stroke-width="0.3">4</text>
<circle cx="414.60" cy="518.90" r="1.9" fill="#6666fb"/>
<circle cx="457.53" cy="518.90" r="3.0" fill="#6666fb"/>
<circle cx="500.46" cy="518.90" r="9.8" fill="#6666fb"/>
<circle cx="543.39" cy="518.90" r="0.9" fill="#6666fb"/>
<circle cx="586.32" cy="518.90" r="2.5" fill="#6666fb"/>
<circle cx="629.25" cy="518.90" r="1.6" fill="#6666fb"/>
<text x="402.3" y="523.6" font-size="16" text-anchor="end" font-weight="normal" font-style="normal" font-family='"Liberation Sans", sans-serif' fill="#111" stroke="#111" stroke-width="0.3">3</text>
<circle cx="414.60" cy="562.00" r="2.8" fill="#6666fb"/>
<circle cx="457.53" cy="562.00" r="9.5" fill="#6666fb"/>
<circle cx="500.46" cy="562.00" r="3.3" fill="#6666fb"/>
<circle cx="543.39" cy="562.00" r="2.8" fill="#6666fb"/>
<circle cx="586.32" cy="562.00" r="2.5" fill="#6666fb"/>
<circle cx="629.25" cy="562.00" r="3.4" fill="#6666fb"/>
<text x="402.3" y="567.5" font-size="16" text-anchor="end" font-weight="normal" font-style="normal" font-family='"Liberation Sans", sans-serif' fill="#111" stroke="#111" stroke-width="0.3">2</text>
<circle cx="414.60" cy="604.50" r="9.5" fill="#6666fb"/>
<circle cx="457.53" cy="604.50" r="2.8" fill="#6666fb"/>
<circle cx="500.46" cy="604.50" r="2.0" fill="#6666fb"/>
<circle cx="543.39" cy="604.50" r="1.5" fill="#6666fb"/>
<circle cx="586.32" cy="604.50" r="3.5" fill="#6666fb"/>
<circle cx="629.25" cy="604.50" r="3.1" fill="#6666fb"/>
<text x="402.3" y="609.2" font-size="16" text-anchor="end" font-weight="normal" font-style="normal" font-family='"Liberation Sans", sans-serif' fill="#111" stroke="#111" stroke-width="0.3">1</text>
<text x="414.9" y="628.9" font-size="16" text-anchor="middle" font-weight="normal" font-style="normal" font-family='"Liberation Sans", sans-serif' fill="#111" stroke="#111" stroke-width="0.3">1</text>
<text x="457.83" y="628.9" font-size="16" text-anchor="middle" font-weight="normal" font-style="normal" font-family='"Liberation Sans", sans-serif' fill="#111" stroke="#111" stroke-width="0.3">2</text>
<text x="500.76" y="628.9" font-size="16" text-anchor="middle" font-weight="normal" font-style="normal" font-family='"Liberation Sans", sans-serif' fill="#111" stroke="#111" stroke-width="0.3">3</text>
<text x="543.69" y="628.9" font-size="16" text-anchor="middle" font-weight="normal" font-style="normal" font-family='"Liberation Sans", sans-serif' fill="#111" stroke="#111" stroke-width="0.3">4</text>
<text x="586.62" y="628.9" font-size="16" text-anchor="middle" font-weight="normal" font-style="normal" font-family='"Liberation Sans", sans-serif' fill="#111" stroke="#111" stroke-width="0.3">5</text>
<text x="629.55" y="628.9" font-size="16" text-anchor="middle" font-weight="normal" font-style="normal" font-family='"Liberation Sans", sans-serif' fill="#111" stroke="#111" stroke-width="0.3">6</text>
<line x1="376.9" y1="633.4" x2="655" y2="633.4" stroke="#43312f" stroke-width="1.1"/>
<path d="M663.8,633.4 L651.0,629.4 L654.4,633.4 L651.0,637.4 Z" fill="#2a1c1a"/>
<text x="525.2" y="654.0" font-size="19.5" text-anchor="middle" font-weight="bold" font-style="normal" font-family='"Liberation Sans", sans-serif' fill="#000">Source</text>
<path transform="translate(667.90,631.20)" d="M0,3.3 C0.3,1.2 1.5,0 2.9,0 C4.7,0 5.5,1.8 6.1,4.6 L7.0,8.8 L9.9,0.3 L10.9,0.3 L7.3,11.4 C7.4,12.8 7.3,14.2 6.9,15.3 C6.6,16.4 5.9,16.9 5.2,16.9 C4.3,16.9 3.7,16.3 3.7,15.2 C3.7,13.8 4.6,12.6 5.3,11.2 C4.9,8.4 4.4,5.6 3.7,3.9 C3.3,2.9 2.8,2.4 2.1,2.4 C1.4,2.4 0.9,2.8 0.6,3.5 Z" fill="#111" stroke="#111" stroke-width="0.55" stroke-linejoin="round"/>
<text transform="translate(679.4,650.40) scale(1.0,1)" x="0" y="0" font-size="12.5" font-weight="bold" font-family='"Liberation Serif", serif' fill="#111">2</text>
<rect x="386.2" y="658.8" width="266.6" height="32.6" fill="#f0e4d5"/>
<circle cx="403.3" cy="675.10" r="7.8" fill="url(#sph)"/>
<circle cx="451.5" cy="675.10" r="10.8" fill="url(#sph)"/>
<circle cx="499.4" cy="675.10" r="10.5" fill="url(#sph)"/>
<circle cx="547.6" cy="675.10" r="11.8" fill="url(#sph)"/>
<circle cx="595.9" cy="675.10" r="11.5" fill="url(#sph)"/>
<circle cx="643.1" cy="675.10" r="7.3" fill="url(#sph)"/>
<text x="404.0" y="708.7" font-size="16" text-anchor="middle" font-weight="normal" font-style="normal" font-family='"Liberation Sans", sans-serif' fill="#111" stroke="#111" stroke-width="0.3">1</text>
<text x="451.5" y="708.7" font-size="16" text-anchor="middle" font-weight="normal" font-style="normal" font-family='"Liberation Sans", sans-serif' fill="#111" stroke="#111" stroke-width="0.3">2</text>
<text x="499.4" y="708.7" font-size="16" text-anchor="middle" font-weight="normal" font-style="normal" font-family='"Liberation Sans", sans-serif' fill="#111" stroke="#111" stroke-width="0.3">3</text>
<text x="547.4" y="708.7" font-size="16" text-anchor="middle" font-weight="normal" font-style="normal" font-family='"Liberation Sans", sans-serif' fill="#111" stroke="#111" stroke-width="0.3">4</text>
<text x="595.9" y="708.7" font-size="16" text-anchor="middle" font-weight="normal" font-style="normal" font-family='"Liberation Sans", sans-serif' fill="#111" stroke="#111" stroke-width="0.3">5</text>
<text x="643.1" y="708.7" font-size="16" text-anchor="middle" font-weight="normal" font-style="normal" font-family='"Liberation Sans", sans-serif' fill="#111" stroke="#111" stroke-width="0.3">6</text>
<text x="374.8" y="493.8" font-size="19.5" text-anchor="middle" font-weight="bold" font-style="normal" font-family='"Liberation Sans", sans-serif' fill="#000" transform="rotate(-90 374.8 493.8)">Probe</text>
<text x="347.7" y="373.3" font-size="25" text-anchor="start" font-weight="bold" font-style="normal" font-family='"Liberation Sans", sans-serif' fill="#000">d</text>
</svg>
</body></html>
